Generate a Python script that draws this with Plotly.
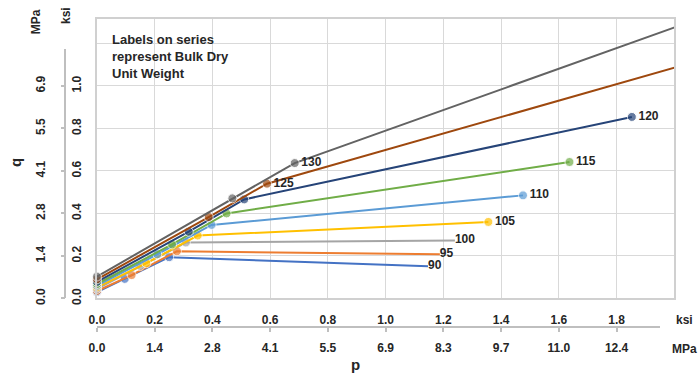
import plotly.graph_objects as go

W, H = 698, 384

# ---- data (p, q in ksi) ----
series_names = ["90", "95", "100", "105", "110", "115", "120", "125", "130"]
colors = ["#4472C4", "#ED7D31", "#A5A5A5", "#FFC000", "#5B9BD5",
          "#70AD47", "#264478", "#9E480E", "#636363"]

p90 = [0.0, 0.096, 0.250, 1.147];  q90 = [0.030, 0.092, 0.194, 0.152]
p95 = [0.0, 0.120, 0.277, 1.188];  q95 = [0.035, 0.110, 0.222, 0.208]
p100 = [0.0, 0.150, 0.308, 1.240]; q100 = [0.045, 0.153, 0.263, 0.273]
p105 = [0.0, 0.171, 0.349, 1.356]; q105 = [0.052, 0.166, 0.296, 0.360]
p110 = [0.0, 0.209, 0.397, 1.476]; q110 = [0.060, 0.208, 0.346, 0.485]
p115 = [0.0, 0.260, 0.449, 1.637]; q115 = [0.068, 0.254, 0.400, 0.642]
p120 = [0.0, 0.318, 0.510, 1.853]; q120 = [0.078, 0.314, 0.466, 0.854]
p125 = [0.0, 0.387, 0.589, 2.100]; q125 = [0.090, 0.383, 0.540, 1.124]
p130 = [0.0, 0.469, 0.685, 2.100]; q130 = [0.103, 0.471, 0.637, 1.323]

P = [p90, p95, p100, p105, p110, p115, p120, p125, p130]
Q = [q90, q95, q100, q105, q110, q115, q120, q125, q130]
# index of point that carries the series label
label_index = [3, 3, 3, 3, 3, 3, 3, 2, 2]
# whether the last point shows a marker
end_marker = [False, False, False, True, True, True, True, False, False]

x_ksi_ticks = [0.0, 0.2, 0.4, 0.6, 0.8, 1.0, 1.2, 1.4, 1.6, 1.8]
x_ksi_text = ["0.0", "0.2", "0.4", "0.6", "0.8", "1.0", "1.2", "1.4", "1.6", "1.8"]
x_mpa_text = ["0.0", "1.4", "2.8", "4.1", "5.5", "6.9", "8.3", "9.7", "11.0", "12.4"]
y_grid_ticks = [0.0, 0.2, 0.4, 0.6, 0.8, 1.0, 1.2]
y_ksi_ticks = [0.0, 0.2, 0.4, 0.6, 0.8, 1.0]
y_ksi_text = ["0.0", "0.2", "0.4", "0.6", "0.8", "1.0"]
y_mpa_text = ["0.0", "1.4", "2.8", "4.1", "5.5", "6.9"]

FONT = "Liberation Sans"
TXT = "#262626"
AXC = "#bfbfbf"


def px(x):
    return x / W


def py(y):
    return 1 - y / H


fig = go.Figure()
for name, c, p, q, li, em in zip(series_names, colors, P, Q, label_index, end_marker):
    n = len(p)
    text = [""] * n
    text[li] = name
    sizes = [9] * n
    if not em:
        sizes[-1] = 0
    fig.add_trace(go.Scatter(
        x=p, y=q, mode="lines+markers+text", name=name,
        line=dict(color=c, width=2),
        marker=dict(color=c, size=sizes),
        text=text, textposition="middle right", cliponaxis=False,
        textfont=dict(family=FONT, size=12, color=TXT, weight="bold"),
        showlegend=False, hoverinfo="skip"))

# dummy traces that create the offset axes (lines and tick labels)
for k in (2, 3, 4):
    fig.add_trace(go.Scatter(x=[None], y=[None], xaxis=f"x{k}", yaxis=f"y{k}",
                             showlegend=False, hoverinfo="skip"))

x_left, x_right, y_top, y_bot = 90, 674, 19, 304
xr = 2.0
yr = (y_bot - y_top) / 216.5
x_dom = [px(x_left), px(x_right)]
y_dom = [py(y_bot), py(y_top)]
x2_dom = [px(x_left), px(660)]
x2_rng = [0, (660 - x_left) / 292]
y2_dom = [py(y_bot), py(50)]
y2_rng = [0, (y_bot - 50) / 216.5]

tickfont = dict(family=FONT, size=12, color=TXT, weight="bold")
free_common = dict(anchor="free", showgrid=False, zeroline=False)

fig.update_layout(
    width=W, height=H, margin=dict(l=0, r=0, t=0, b=0),
    paper_bgcolor="white", plot_bgcolor="rgba(0,0,0,0)",
    # main plot area: grid + border only
    xaxis=dict(domain=x_dom, range=[0, xr], tickvals=x_ksi_ticks,
               showticklabels=False, ticks="",
               showgrid=True, gridcolor="#d9d9d9", gridwidth=1,
               zeroline=False, showline=True, mirror=True, linecolor="#d0d0d0",
               linewidth=1.5),
    yaxis=dict(domain=y_dom, range=[0, yr], tickvals=y_grid_ticks,
               showticklabels=False, ticks="",
               showgrid=True, gridcolor="#d9d9d9", gridwidth=1,
               zeroline=False, showline=True, mirror=True, linecolor="#d0d0d0",
               linewidth=1.5),
    # offset axis lines with small ticks
    xaxis2=dict(domain=x2_dom, range=x2_rng, position=py(333), side="bottom",
                tickvals=x_ksi_ticks, showticklabels=False,
                showline=True, linecolor=AXC, linewidth=1.5,
                ticks="outside", ticklen=4, tickcolor=AXC, tickwidth=1.5,
                **free_common),
    yaxis2=dict(domain=y2_dom, range=y2_rng, position=px(58), side="left",
                tickvals=y_ksi_ticks, showticklabels=False,
                showline=True, linecolor=AXC, linewidth=1.5,
                ticks="outside", ticklen=4, tickcolor=AXC, tickwidth=1.5,
                **free_common),
    # ksi tick labels
    xaxis3=dict(domain=x_dom, range=[0, xr], position=py(317), side="bottom",
                tickvals=x_ksi_ticks, ticktext=x_ksi_text, tickfont=tickfont,
                showline=False, ticks="", **free_common),
    yaxis3=dict(domain=y_dom, range=[0, yr], position=px(76), side="left",
                tickvals=y_ksi_ticks, ticktext=y_ksi_text, tickfont=tickfont,
                tickangle=-90, showline=False, ticks="", **free_common),
    # MPa tick labels
    xaxis4=dict(domain=x2_dom, range=x2_rng, position=py(345), side="bottom",
                tickvals=x_ksi_ticks, ticktext=x_mpa_text, tickfont=tickfont,
                showline=False, ticks="", **free_common),
    yaxis4=dict(domain=y2_dom, range=y2_rng, position=px(40), side="left",
                tickvals=y_ksi_ticks, ticktext=y_mpa_text, tickfont=tickfont,
                tickangle=-90, showline=False, ticks="", **free_common),
)

ann_font = dict(family=FONT, size=12, color=TXT, weight="bold")
anns = [
    dict(text="MPa", x=px(28), y=py(22), textangle=-90, font=ann_font),
    dict(text="ksi", x=px(58), y=py(16), textangle=-90, font=ann_font),
    dict(text="q", x=px(8), y=py(165), textangle=-90,
         font=dict(family=FONT, size=15, color=TXT, weight="bold")),
    dict(text="p", x=px(352), y=py(371),
         font=dict(family=FONT, size=15, color=TXT, weight="bold")),
    dict(text="ksi", x=px(684), y=py(326), font=ann_font),
    dict(text="MPa", x=px(684), y=py(355), font=ann_font),
]
for a in anns:
    fig.add_annotation(xref="paper", yref="paper", showarrow=False,
                       xanchor="center", yanchor="middle", **a)

fig.add_annotation(xref="paper", yref="paper", showarrow=False,
                   x=px(103), y=py(31), xanchor="left", yanchor="top", align="left",
                   text="Labels on series<br>represent Bulk Dry<br>Unit Weight",
                   font=dict(family=FONT, size=13, color=TXT, weight="bold"))

fig.write_html("out.html")
